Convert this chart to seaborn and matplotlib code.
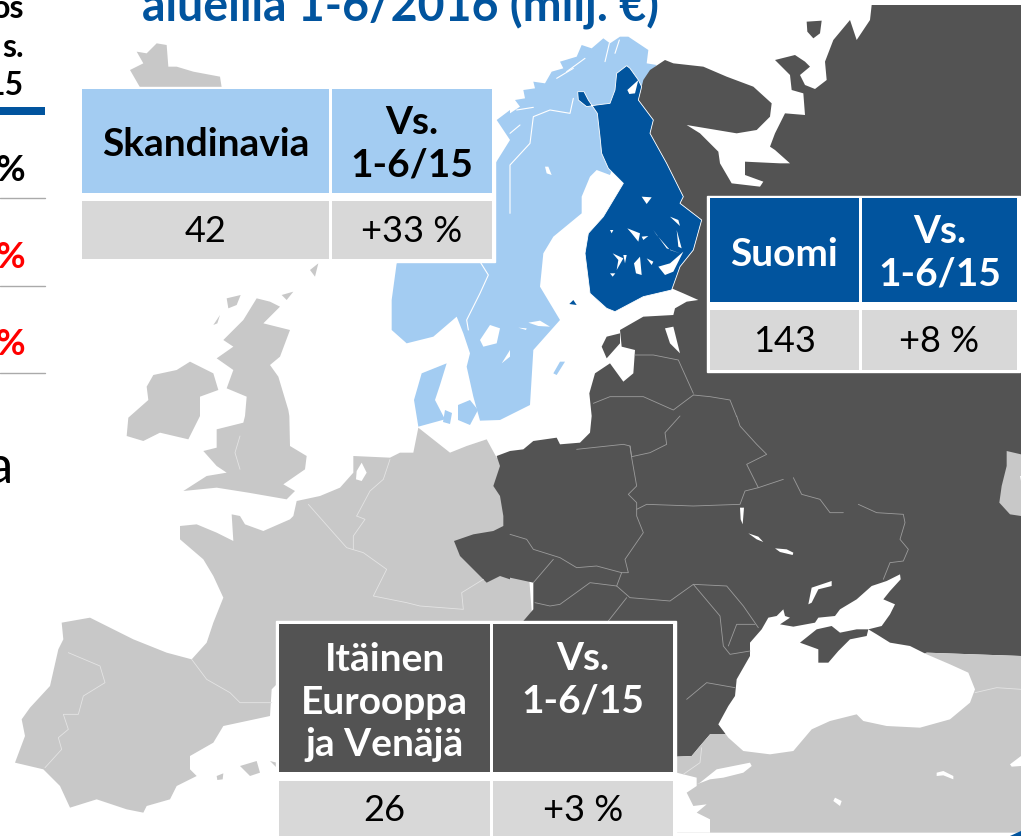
import matplotlib
matplotlib.use("Agg")
import matplotlib.pyplot as plt
from matplotlib.colors import ListedColormap
import seaborn as sns

# values shown in the three region tables
regions = ["Skandinavia", "Suomi", "Itäinen\nEurooppa\nja Venäjä"]
sales = ["42", "143", "26"]
changes = ["+33 %", "+8 %", "+3 %"]
vs_labels = ["Vs.\n1-6/15", "Vs.\n1-6/15", "Vs.\n1-6/15\n"]
title = "alueilla 1-6/2016 (milj. €)"

NW, NE, SW, SE = (0, 0), (510, 0), (0, 416), (510, 416)

iceland = [(410, 155), (440, 160), (470, 130), (500, 135), (505, 200), (530, 200), (580, 215), (660, 230), (665, 262),
           (420, 262), (390, 210), (430, 190)]
britain_n = [(770, 895), (810, 905), (840, 920), (790, 970), (870, 990), (840, 1070), (810, 1095), (835, 1130),
             (865, 1230), (868, 1248)]
britain_s = [(870, 90), (920, 120), (915, 160), (850, 205), (885, 225), (860, 250), (745, 230), (650, 215),
             (550, 225), (620, 180), (680, 170), (650, 150), (610, 105), (650, 95), (650, 40), (730, 20),
             (735, 0)]
britain_n2 = [(740, 1190), (680, 1165), (700, 1110), (650, 1075), (700, 1040), (670, 1020), (730, 960)]
ireland_n = [(460, 1125), (530, 1110), (570, 1085), (640, 1120), (655, 1170), (600, 1190), (600, 1248)]
ireland_s = [(565, 70), (480, 50), (430, 75), (380, 60), (385, 5)]
ireland_n2 = [(445, 1200), (440, 1160)]
west_europe = [(880, 300), (890, 255), (960, 240), (1020, 215), (1060, 170), (1060, 120), (1170, 125), (1200, 110),
               (1240, 110), (1255, 35), (1350, 110), (1400, 90), (1460, 70), (1490, 125), (1560, 125), (1600, 650),
               (835, 650), (835, 800), (815, 820), (810, 900), (670, 930), (640, 980), (570, 1020), (570, 1060),
               (590, 1080), (530, 1110), (510, 1150), (440, 1170), (430, 1190), (380, 1180), (290, 1150), (210, 1175),
               (180, 1110), (130, 1060), (45, 1040), (75, 960), (65, 910), (90, 875), (150, 810), (175, 700),
               (190, 670), (185, 620), (270, 605), (400, 670), (500, 710), (575, 730), (620, 680), (640, 620),
               (670, 545), (640, 480), (610, 430), (540, 370), (540, 330), (590, 325), (650, 350), (700, 375),
               (695, 295), (720, 300), (735, 325), (790, 345), (870, 310)]
west_water = [[(1070, 165), (1085, 140), (1100, 170), (1085, 195), (1068, 190)]]
balearic = [[(720, 1050), (770, 1035), (780, 1070), (750, 1080)], [(810, 1035), (830, 1040), (830, 1055)],
            [(650, 1080), (670, 1072), (668, 1090), (652, 1092)]]
british_isles = [[(680, 895), (722, 885), (710, 915), (685, 925)], [(640, 975), (660, 945), (652, 970)],
                 [(930, 810), (955, 790), (945, 830)], [(845, 885), (880, 875), (860, 900)]]

east_a = [(1085, 15), (1533, 15)]
east_b = [(1533, 720), (1250, 710), (900, 900), (640, 955), (600, 955), (570, 990), (545, 1020), (500, 1022),
          (300, 1060), (40, 640), (40, 615), (70, 580), (70, 500), (0, 485)]
east_c = [(1530, 490), (1500, 480), (1460, 500), (1380, 420), (1362, 375), (1420, 355), (1480, 345), (1510, 330),
          (1510, 300), (1500, 240), (1480, 210), (1500, 150), (1490, 120), (1530, 105)]
east_d = [(40, 100), (70, 75), (140, 65), (150, 85), (210, 80), (240, 50), (245, 0)]
east_e = [(245, 1248), (238, 1180), (255, 1120), (300, 1090), (340, 1145), (370, 1120), (375, 1050), (335, 1040),
          (330, 990), (400, 950), (490, 945), (495, 925), (530, 905), (565, 900), (520, 880), (485, 865), (510, 800),
          (550, 750), (575, 660), (510, 610), (520, 590), (470, 490), (420, 400), (430, 360), (385, 300), (400, 240),
          (420, 210), (465, 180), (490, 190), (580, 200), (650, 230), (730, 260), (785, 310), (780, 350), (740, 390),
          (680, 400), (530, 375), (570, 400), (625, 455), (630, 490), (665, 550), (750, 560), (760, 545), (705, 525),
          (705, 485), (810, 490), (840, 490), (795, 450), (780, 440), (795, 400), (825, 340), (885, 345), (880, 280),
          (845, 270), (840, 225), (795, 180), (855, 165), (885, 185), (900, 200), (870, 225), (885, 255), (915, 267),
          (950, 240), (945, 185), (970, 120), (1020, 60), (1040, 120), (1080, 60)]
kolguev = [(890, 65), (935, 62), (930, 100), (910, 115), (892, 95)]
saaremaa = [(275, 1040), (290, 1010), (330, 1000), (330, 1030), (290, 1075)]
peipus = [(465, 985), (490, 980), (510, 1060), (480, 1030)]

south_gray = [(500, 1022), (545, 1020), (570, 990), (600, 955), (640, 955), (900, 900), (1250, 710), (1533, 720),
              (1533, 1250), (490, 1250)]
kazakh_gray = [(1490, 105), (1533, 115), (1533, 300), (1500, 295), (1468, 260), (1475, 210), (1490, 150)]

black_sea = [(755, 640), (775, 605), (800, 600), (820, 580), (825, 600), (840, 605), (810, 625), (850, 632), (915, 620),
             (925, 605), (975, 600), (990, 580), (1040, 550), (1085, 510), (1130, 495), (1170, 475), (1172, 490),
             (1140, 525), (1120, 550), (1155, 565), (1140, 595), (1115, 630), (1075, 640), (1100, 655), (1140, 680),
             (1200, 690), (1250, 715), (1320, 745), (1375, 770), (1395, 820), (1380, 860), (1320, 910), (1230, 935),
             (1130, 930), (1060, 915), (1040, 895), (960, 915), (905, 940), (850, 1005), (780, 1015), (700, 1005),
             (655, 965), (625, 925), (655, 870), (675, 840), (680, 790), (720, 720), (720, 680)]
crimea = [(870, 680), (920, 640), (965, 630), (990, 650), (1040, 640), (1075, 640), (1070, 660), (1020, 670),
          (985, 705), (955, 740), (925, 740), (925, 700)]
se_water = [[(570, 1100), (620, 1060), (720, 1040), (725, 1050), (700, 1070), (640, 1085), (600, 1090), (560, 1105)],
            [(500, 1070), (560, 1085), (560, 1110), (530, 1130), (550, 1170), (590, 1165), (560, 1190), (600, 1210),
             (600, 1250), (500, 1250)],
            [(1280, 1070), (1300, 1065), (1330, 1080), (1330, 1090), (1300, 1078), (1280, 1080)],
            [(975, 1145), (995, 1155), (990, 1170), (970, 1155)],
            [(1500, 1045), (1533, 1020), (1533, 1050), (1505, 1052)],
            [(690, 275), (702, 275), (698, 325), (692, 310)],
            [(715, 352), (745, 362), (760, 378), (740, 370)],
            [(795, 397), (830, 400), (850, 410), (848, 417), (810, 408)],
            [(895, 565), (905, 515), (965, 495), (965, 510), (925, 520), (905, 560)],
            [(1530, 180), (1533, 180), (1533, 195)]]

norden_a = [(330, 110), (355, 110), (415, 150), (410, 190), (440, 195), (420, 215), (385, 290), (300, 525), (260, 510),
            (240, 530), (215, 590), (215, 640), (130, 710), (100, 760), (90, 860), (150, 960), (70, 1050), (60, 1215)]
norden_b = [(1500, 1260), (1440, 1262), (1420, 1190), (1400, 1100), (1410, 1060), (1390, 1000), (1370, 950),
            (1300, 1010), (1220, 1030), (1175, 990), (1175, 900), (1190, 790), (1400, 700), (1480, 500), (1530, 420),
            (1490, 360), (1530, 330)]
norden_c = [(0, 340), (30, 320), (15, 300), (45, 295), (40, 270), (75, 265), (70, 245), (105, 250), (125, 215),
            (160, 205), (150, 185), (200, 170), (215, 135), (245, 145), (280, 115), (300, 130)]
fjords = [[(20, 330), (70, 322)], [(30, 375), (0, 400)], [(140, 235), (190, 205)], [(285, 185), (298, 130)],
          [(170, 215), (225, 175)], [(315, 160), (328, 120)]]
denmark = [[(1265, 1120), (1340, 1090), (1320, 1155), (1305, 1200), (1335, 1258), (1255, 1280), (1242, 1200)],
           [(1410, 1200), (1434, 1230), (1410, 1275), (1374, 1260), (1374, 1215)],
           [(1335, 1230), (1356, 1239), (1350, 1272), (1329, 1266)]]
gotland = [(130, 1120), (150, 1085), (165, 1085), (140, 1125)]
sweden_lakes = [[(1440, 1020), (1470, 975), (1500, 985), (1490, 1030), (1450, 1040)],
                [(1505, 1090), (1530, 1050), (1530, 1070)]]
sweden_lakes_ne = [[(55, 968), (90, 962), (120, 980), (85, 978)], [(25, 983), (50, 985), (48, 990)],
                   [(105, 500), (115, 500), (125, 525), (110, 520)]]
finland = [(350, 197), (320, 220), (315, 270), (300, 310), (260, 315), (230, 320), (205, 300), (203, 275), (222, 275),
           (235, 300), (262, 340), (270, 410), (275, 460), (295, 505), (340, 550), (310, 600), (280, 650), (235, 700),
           (225, 760), (240, 880), (290, 925), (315, 935), (400, 890), (485, 870), (510, 800), (550, 750), (575, 660),
           (510, 610), (520, 590), (470, 490), (420, 400), (430, 360), (385, 300), (395, 260), (385, 240), (360, 205)]
finland_lakes = [[(395, 590), (425, 592), (410, 612)], [(352, 270), (385, 240), (375, 280), (358, 282)],
                 [(480, 650), (505, 660), (510, 678)], [(352, 685), (390, 700), (385, 725), (365, 700)],
                 [(430, 690), (470, 745), (510, 760), (480, 750), (440, 705)], [(500, 690), (515, 745), (505, 740)],
                 [(308, 760), (340, 775), (320, 810), (325, 780)], [(372, 790), (390, 770), (395, 825), (378, 820)],
                 [(445, 800), (480, 790), (520, 755), (490, 815), (465, 825)], [(410, 775), (430, 785), (425, 795)],
                 [(340, 765), (350, 765), (345, 790)], [(395, 710), (415, 708), (400, 720)],
                 [(300, 820), (316, 820), (308, 830)], [(300, 690), (310, 690), (305, 700)]]
aland = [(178, 912), (190, 900), (200, 915)]

# thin country borders
borders_east = [[(360, 90), (365, 125), (380, 210), (355, 235), (380, 260), (380, 300), (400, 350), (345, 430), (355, 470),
                 (335, 470), (320, 510)],
                [(200, 100), (340, 85), (360, 90), (365, 122), (420, 110), (470, 85), (465, 50), (510, 0)],
                [(380, 280), (410, 265), (550, 270), (690, 265), (705, 225), (745, 215), (710, 145), (770, 115),
                 (740, 85), (690, 30), (680, 0)],
                [(745, 215), (820, 190)],
                [(850, 185), (875, 235), (930, 250), (960, 290), (1000, 290)],
                [(1045, 265), (1100, 290), (1180, 295), (1185, 320), (1170, 370), (1195, 400), (1180, 435), (1140, 440),
                 (1120, 490)],
                [(0, 355), (50, 370), (70, 400), (150, 425), (200, 455), (260, 450), (335, 470)],
                [(70, 500), (130, 430)],
                [(75, 560), (120, 570), (150, 565), (240, 500), (320, 510), (360, 545), (480, 555), (550, 505), (650, 510),
                 (700, 570), (745, 635)],
                [(550, 505), (630, 600), (640, 690), (660, 715), (720, 705)],
                [(655, 690), (680, 625), (735, 625)],
                [(530, 850), (590, 800), (675, 815)],
                [(295, 615), (350, 545)]]
borders_baltic = [[(375, 1065), (430, 1065), (505, 1080), (550, 1180)],
                  [(550, 1185), (600, 1190), (660, 1200), (680, 1250)],
                  [(250, 1210), (300, 1190), (400, 1190), (490, 1230), (550, 1185)]]
borders_south = [[(575, 995), (570, 1040), (520, 1075)], [(1395, 830), (1460, 815), (1533, 820)]]
borders_west = [[(575, 730), (620, 790), (690, 830), (720, 860), (815, 860)],
                [(205, 710), (300, 750), (315, 800), (250, 840), (235, 895), (190, 895), (205, 940), (175, 965), (185, 1000),
                 (135, 1055)],
                [(925, 265), (1000, 350), (1040, 395), (1090, 410), (1160, 460), (1120, 540), (1220, 560), (1260, 570),
                 (1390, 580), (1385, 530), (1450, 490)],
                [(1070, 300), (1110, 225), (1150, 190), (1170, 130)],
                [(1060, 400), (1060, 360), (1095, 310), (1070, 300)],
                [(720, 60), (705, 110), (720, 160)]]
border_norway_a = [(190, 295), (180, 340), (120, 330), (70, 350), (60, 430), (0, 495), (0, 640)]
border_norway_b = [(1440, 785), (1465, 825), (1440, 880), (1400, 960), (1405, 990)]

LIGHT_BLUE = "#A3CCF2"
BLUE = "#01549E"
DARK = "#535353"
MAP_GRAY = "#C8C8C8"
CELL_GRAY = "#D8D8D8"
FONT = "Lato"


def crop(points, corner):
    return [corner[0] + x / 3 for x, _ in points], [corner[1] + y / 3 for _, y in points]


def join(*parts):
    xs, ys = [], []
    for points, corner in parts:
        x, y = crop(points, corner)
        xs += x
        ys += y
    return xs, ys


def cell(fig, box, text, face, colour, weight, size, shift):
    """One table cell, drawn as a 1x1 heatmap at a pixel box."""
    x0, y0, x1, y1 = box
    ax = fig.add_axes([x0 / 1021, 1 - y1 / 836, (x1 - x0) / 1021, (y1 - y0) / 836])
    sns.heatmap([[0]], ax=ax, cmap=ListedColormap([face]), cbar=False, annot=[[text]], fmt="",
                xticklabels=False, yticklabels=False,
                annot_kws={"color": colour, "fontweight": weight, "fontsize": size, "family": FONT,
                           "linespacing": 1.27})
    # nudge the label down a little, the y axis of a heatmap points down
    ax.texts[0].set_y(0.5 + shift / (y1 - y0))
    return ax


def table(fig, left, mid, right, top, head_bottom, val_top, val_bottom, i, face, colour, border):
    ax0 = fig.axes[0]
    ax0.fill([border[0], border[2], border[2], border[0]], [border[1], border[1], border[3], border[3]],
             color="white", zorder=20)
    cell(fig, (left, top, mid[0], head_bottom), regions[i], face, colour, "bold", 28, 4)
    cell(fig, (mid[1], top, right, head_bottom), vs_labels[i], face, colour, "bold", 28, 3)
    cell(fig, (left, val_top, mid[0], val_bottom), sales[i], CELL_GRAY, "black", "normal", 26, 2)
    cell(fig, (mid[1], val_top, right, val_bottom), changes[i], CELL_GRAY, "black", "normal", 26, 2)


def main():
    sns.set_theme(style="white")
    plt.rcParams["font.family"] = FONT

    fig = plt.figure(figsize=(10.21, 8.36), dpi=100)
    ax = fig.add_axes([0, 0, 1, 1])
    ax.set_xlim(0, 1021)
    ax.set_ylim(836, 0)
    ax.axis("off")

    # grey countries
    ax.fill(*crop(iceland, NW), color=MAP_GRAY, lw=0)
    ax.fill(*join((britain_n, NW), (britain_s, SW), (britain_n2, NW)), color=MAP_GRAY, lw=0)
    ax.fill(*join((ireland_n, NW), (ireland_s, SW), (ireland_n2, NW)), color=MAP_GRAY, lw=0)
    ax.fill(*crop(west_europe, SW), color=MAP_GRAY, lw=0)
    for water in west_water:
        ax.fill(*crop(water, SW), color="white", lw=0)
    for isle in balearic:
        ax.fill(*crop(isle, SW), color=MAP_GRAY, lw=0)
    for isle in british_isles:
        ax.fill(*crop(isle, NW), color=MAP_GRAY, lw=0)

    # Scandinavia, then the dark east, then Finland on top
    ax.fill(*join((norden_a, NE), (norden_b, NW), (norden_c, NE)), color=LIGHT_BLUE, lw=0)
    for line in fjords:
        ax.plot(*crop(line, NE), color="white", lw=0.8)
    for isle in denmark:
        ax.fill(*crop(isle, NW), color=LIGHT_BLUE, lw=0)
    ax.fill(*crop(gotland, NE), color=LIGHT_BLUE, lw=0)
    for lake in sweden_lakes:
        ax.fill(*crop(lake, NW), color="white", lw=0)
    for lake in sweden_lakes_ne:
        ax.fill(*crop(lake, NE), color="white", lw=0)

    ax.fill(*join((east_a, NE), (east_b, SE), (east_c, SW), (east_d, SE), (east_e, NE)), color=DARK, lw=0)
    ax.fill(*crop(kolguev, NE), color=DARK, lw=0)
    ax.fill(*crop(saaremaa, NE), color=DARK, lw=0)
    ax.fill(*crop(peipus, NE), color="white", lw=0)

    ax.fill(*crop(south_gray, SE), color=MAP_GRAY, lw=0)
    ax.fill(*crop(kazakh_gray, SE), color=MAP_GRAY, lw=0)
    ax.fill(*crop(black_sea, SE), color="white", lw=0)
    ax.fill(*crop(crimea, SE), color=DARK, lw=0)
    for water in se_water:
        ax.fill(*crop(water, SE), color="white", lw=0)
    ax.fill(*crop([(1500, 1260), (1533, 1245), (1533, 1260)], SE), color=BLUE, lw=0)

    ax.fill(*crop(finland, NE), color=BLUE, ec="white", lw=0.6)
    for lake in finland_lakes:
        ax.fill(*crop(lake, NE), color="white", lw=0)
    ax.fill(*crop(aland, NE), color=BLUE, lw=0)

    # borders
    for line in borders_east:
        ax.plot(*crop(line, SE), color="#9C9C9C", lw=0.6)
    for line in borders_baltic:
        ax.plot(*crop(line, NE), color="#9C9C9C", lw=0.6)
    for line in borders_south:
        ax.plot(*crop(line, SE), color="#E4E4E4", lw=0.6)
    for line in borders_west:
        ax.plot(*crop(line, SW), color="#E4E4E4", lw=0.6)
    ax.plot(*crop(border_norway_a, NE), color="white", lw=0.8)
    ax.plot(*crop(border_norway_b, NW), color="white", lw=0.8)

    # leftover slide text at the left edge and the clipped title
    for text, y in [("os", 18), ("s.", 57), ("15", 95)]:
        ax.text(24, y, text, ha="right", va="baseline", fontsize=23, fontweight="bold", color="black")
    ax.fill([0, 45, 45, 0], [107, 107, 115, 115], color=BLUE, lw=0)
    for y, colour in [(181, "black"), (268, "red"), (355, "red")]:
        ax.text(25, y, "%", ha="right", va="baseline", fontsize=26, fontweight="bold", color=colour)
    for y in (198, 286, 373):
        ax.plot([0, 45], [y, y], color="#AAAAAA", lw=1)
    ax.text(12, 483, "a", ha="right", va="baseline", fontsize=38, color="black")
    ax.text(142, 22, title, ha="left", va="baseline", fontsize=33.5, fontweight="bold", color=BLUE)

    # region tables
    table(fig, 82, (329, 332), 492, 89, 193, 201, 259, 0, LIGHT_BLUE, "black", (80, 87, 495, 262))
    table(fig, 710, (859, 862), 1017, 198, 302, 310, 370, 1, BLUE, "white", (707, 196, 1020, 372))
    table(fig, 279, (490, 493), 673, 624, 772, 781, 836, 2, DARK, "white", (276, 621, 676, 836))

    fig.savefig("out.png", dpi=100)


if __name__ == "__main__":
    main()
